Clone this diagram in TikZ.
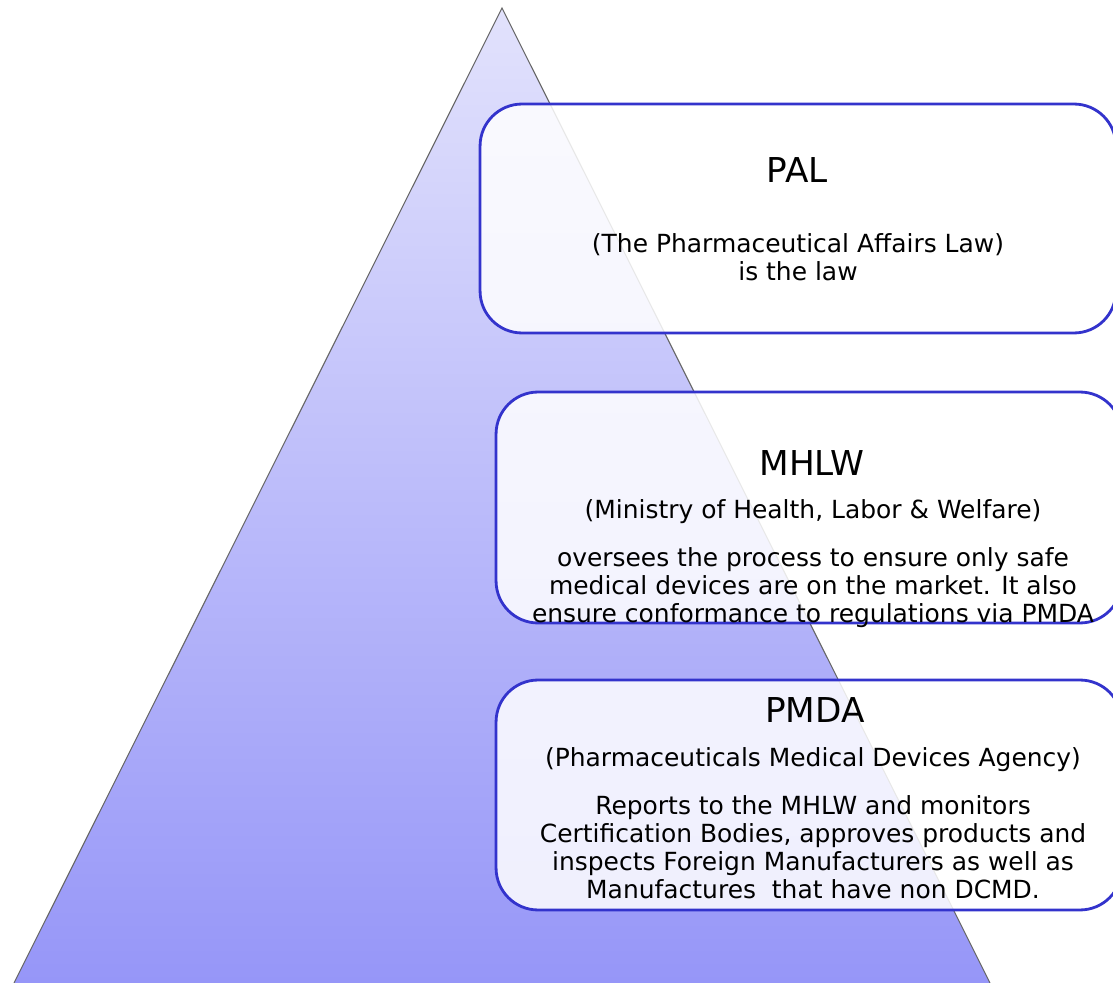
\documentclass[tikz,border=0pt]{standalone}
\usepackage{fontspec}
\setmainfont{DejaVu Sans}
\usetikzlibrary{positioning}
\definecolor{pyrtop}{RGB}{226,226,252}
\definecolor{pyrbot}{RGB}{150,150,248}
\definecolor{boxline}{RGB}{51,51,204}
\tikzset{
  layer/.style = {rectangle, rounded corners=0.84cm, draw=boxline,
    line width=1.6pt, fill=white, fill opacity=0.85},% one level of the pyramid
  ttl/.style = {inner sep=0pt, font=\fontsize{19.5}{23}\selectfont},
  txt/.style = {inner sep=0pt, align=center,
    font=\fontsize{14.2}{15.9}\selectfont}
}

\begin{document}
\begin{tikzpicture}[x=0.02cm, y=-0.02cm]
\useasboundingbox (0,0) rectangle (1113,983);

% the pyramid
\coordinate (apex) at (502,8);
\coordinate (baseL) at (14,983);
\coordinate (baseR) at (990,983);
\shade[top color=pyrtop, bottom color=pyrbot] (apex) -- (baseL) -- (baseR) -- cycle;
\draw[black!60, line width=0.6pt] (baseL) -- (apex) -- (baseR);

% the three levels
\node[layer, minimum width=12.72cm, minimum height=4.58cm] (pal) at (798,218.5) {};
\node[layer, minimum width=12.52cm, minimum height=4.62cm] (mhlw) at (809,507.5) {};
\node[layer, minimum width=12.52cm, minimum height=4.6cm] (pmda) at (809,795) {};

\node[ttl] (palT) at (797,170) {PAL};
\node[txt] (palS) at (798,257) {(The Pharmaceutical Affairs Law)\\is the law};

\node[ttl] (mhlwT) at (812,463) {MHLW};
\node[txt] (mhlwS) at (813,512) {(Ministry of Health, Labor \& Welfare)};
\node[txt] (mhlwB) at (813,588) {oversees the process to ensure only safe\\
  medical devices are on the market. It also\\
  ensure conformance to regulations via PMDA};

\node[ttl] (pmdaT) at (815,710) {PMDA};
\node[txt] (pmdaS) at (813,760) {(Pharmaceuticals Medical Devices Agency)};
\node[txt] (pmdaB) at (813,847) {Reports to the MHLW and monitors\\
  Certification Bodies, approves products and\\
  inspects Foreign Manufacturers as well as\\
  Manufactures\ \ that have non DCMD.};
\end{tikzpicture}
\end{document}
